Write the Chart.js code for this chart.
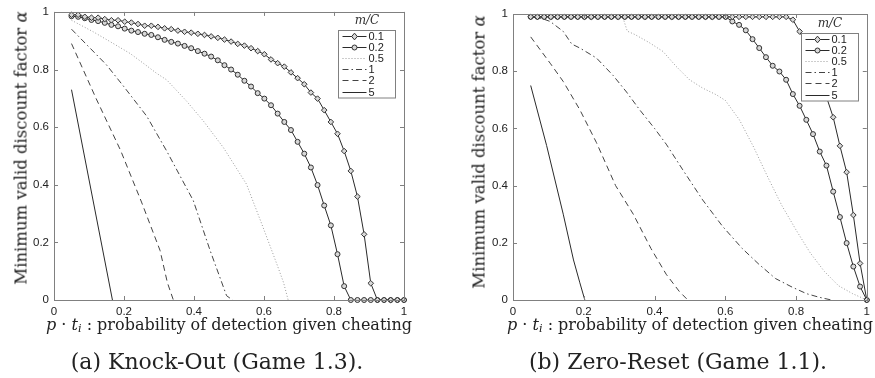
<!DOCTYPE html>
<html>
<head>
<meta charset="utf-8">
<script src="https://cdn.jsdelivr.net/npm/chart.js@4.4.0/dist/chart.umd.min.js"></script>
<style>
	body { margin: 0; background: #fff; width: 875px; height: 378px; position: relative; overflow: hidden; font-family: "DejaVu Serif", serif; color: #222; }
	.panel { position: absolute; top: 0; width: 440px; height: 320px; }
	.xtitle, .caption, .ytitle { position: absolute; white-space: nowrap; transform: translate(-50%, -50%); }
	.xtitle { font-size: 16px; top: 325px; }
	.caption { font-size: 22px; top: 361px; }
	.ytitle { font-size: 16.5px; transform: translate(-50%, -50%) rotate(-90deg); }
	sub { font-size: 70%; vertical-align: -0.25em; }
</style>
</head>
<body>
<div class="panel" style="left:0px"><canvas id="knockOutChart" width="440" height="320"></canvas></div>
<div class="panel" style="left:435px"><canvas id="zeroResetChart" width="440" height="320"></canvas></div>

<div class="ytitle" style="left:21px; top:148px">Minimum valid discount factor <i>α</i></div>
<div class="xtitle" style="left:229px"><i>p</i> · <i>t<sub>i</sub></i> : probability of detection given cheating</div>
<div class="caption" style="left:217px">(a) Knock-Out (Game 1.3).</div>

<div class="ytitle" style="left:479px; top:152px">Minimum valid discount factor <i>α</i></div>
<div class="xtitle" style="left:690px"><i>p</i> · <i>t<sub>i</sub></i> : probability of detection given cheating</div>
<div class="caption" style="left:678px">(b) Zero-Reset (Game 1.1).</div>

<script>
// axis ticks and legend names
const axisTicks = [0, 0.2, 0.4, 0.6, 0.8, 1];
const ratioLabels = ["0.1", "0.2", "0.5", "1", "2", "5"];

// detection probabilities where the marked curves are sampled
const pGrid = [0.05, 0.069, 0.088, 0.107, 0.126, 0.145, 0.164, 0.183, 0.202, 0.221,
	0.24, 0.259, 0.278, 0.297, 0.316, 0.335, 0.354, 0.373, 0.392, 0.411,
	0.43, 0.449, 0.468, 0.487, 0.506, 0.525, 0.544, 0.563, 0.582, 0.601,
	0.62, 0.639, 0.658, 0.677, 0.696, 0.715, 0.734, 0.753, 0.772, 0.791,
	0.81, 0.829, 0.848, 0.867, 0.886, 0.905, 0.924, 0.943, 0.962, 0.981, 1.0];

// (a) Knock-Out
const koAlpha01 = [0.99, 0.99, 0.983, 0.98, 0.98, 0.975, 0.971, 0.971, 0.966, 0.963,
	0.958, 0.952, 0.952, 0.948, 0.943, 0.94, 0.935, 0.931, 0.928, 0.924,
	0.92, 0.915, 0.91, 0.904, 0.897, 0.889, 0.883, 0.874, 0.864, 0.853,
	0.835, 0.822, 0.81, 0.79, 0.77, 0.749, 0.72, 0.699, 0.659, 0.618,
	0.577, 0.517, 0.448, 0.359, 0.228, 0.058, 0, 0, 0, 0, 0];
const koAlpha02 = [0.985, 0.983, 0.978, 0.972, 0.968, 0.962, 0.955, 0.95, 0.942, 0.935,
	0.93, 0.924, 0.92, 0.912, 0.903, 0.896, 0.89, 0.882, 0.874, 0.864,
	0.855, 0.845, 0.832, 0.815, 0.8, 0.782, 0.761, 0.741, 0.718, 0.699,
	0.676, 0.647, 0.618, 0.59, 0.549, 0.508, 0.46, 0.399, 0.328, 0.259,
	0.159, 0.048, 0, 0, 0, 0, 0, 0, 0, 0, 0];
const koP05 = [0.05, 0.112, 0.16, 0.217, 0.255, 0.293, 0.322, 0.379, 0.427, 0.484, 0.55, 0.598, 0.636, 0.656, 0.669];
const koAlpha05 = [0.971, 0.931, 0.897, 0.856, 0.822, 0.787, 0.764, 0.69, 0.621, 0.529, 0.402, 0.25, 0.127, 0.06, 0];
const koP1 = [0.05, 0.15, 0.2, 0.265, 0.322, 0.398, 0.446, 0.493, 0.51];
const koAlpha1 = [0.94, 0.816, 0.74, 0.638, 0.517, 0.345, 0.172, 0.015, 0];
const koP2 = [0.05, 0.12, 0.19, 0.25, 0.303, 0.324, 0.341];
const koAlpha2 = [0.89, 0.7, 0.52, 0.34, 0.172, 0.06, 0];
const koP5 = [0.05, 0.167];
const koAlpha5 = [0.73, 0];

// (b) Zero-Reset
const zrAlpha01 = [0.99, 0.99, 0.99, 0.99, 0.99, 0.99, 0.99, 0.99, 0.99, 0.99,
	0.99, 0.99, 0.99, 0.99, 0.99, 0.99, 0.99, 0.99, 0.99, 0.99,
	0.99, 0.99, 0.99, 0.99, 0.99, 0.99, 0.99, 0.99, 0.99, 0.99,
	0.99, 0.99, 0.99, 0.99, 0.99, 0.99, 0.99, 0.99, 0.99, 0.98,
	0.939, 0.89, 0.84, 0.78, 0.71, 0.639, 0.539, 0.447, 0.297, 0.128, 0];
const zrAlpha02 = [0.99, 0.99, 0.99, 0.99, 0.99, 0.99, 0.99, 0.99, 0.99, 0.99,
	0.99, 0.99, 0.99, 0.99, 0.99, 0.99, 0.99, 0.99, 0.99, 0.99,
	0.99, 0.99, 0.99, 0.99, 0.99, 0.99, 0.99, 0.99, 0.99, 0.99,
	0.974, 0.962, 0.943, 0.912, 0.881, 0.849, 0.819, 0.799, 0.77, 0.72,
	0.679, 0.63, 0.58, 0.519, 0.47, 0.379, 0.29, 0.199, 0.117, 0.047, 0];
const zrP05 = [0.05, 0.31, 0.323, 0.345, 0.385, 0.424, 0.461, 0.499, 0.536, 0.574, 0.6, 0.64, 0.68, 0.72, 0.76, 0.8, 0.84, 0.88, 0.92, 0.96, 1.0];
const zrAlpha05 = [0.99, 0.99, 0.94, 0.928, 0.9, 0.869, 0.817, 0.77, 0.741, 0.718, 0.698, 0.63, 0.535, 0.43, 0.33, 0.245, 0.165, 0.1, 0.05, 0.022, 0];
const zrP1 = [0.05, 0.08, 0.105, 0.142, 0.166, 0.189, 0.236, 0.283, 0.321, 0.358, 0.4, 0.433, 0.48, 0.536, 0.592, 0.648, 0.695, 0.742, 0.789, 0.83, 0.864, 0.9];
const zrAlpha1 = [0.99, 0.985, 0.974, 0.939, 0.895, 0.881, 0.846, 0.785, 0.727, 0.665, 0.6, 0.545, 0.455, 0.35, 0.258, 0.18, 0.125, 0.075, 0.045, 0.022, 0.01, 0];
const zrP2 = [0.05, 0.105, 0.142, 0.189, 0.236, 0.29, 0.34, 0.39, 0.433, 0.47, 0.494];
const zrAlpha2 = [0.92, 0.828, 0.764, 0.665, 0.55, 0.4, 0.3, 0.18, 0.09, 0.03, 0];
const zrP5 = [0.05, 0.095, 0.142, 0.171, 0.189, 0.203];
const zrAlpha5 = [0.75, 0.54, 0.3, 0.14, 0.06, 0];

// line style for each m/C curve, same order as ratioLabels
const curveStyles = [
	{ color: "#2a2a2a", dash: [], marker: "rectRot", radius: 2.8 },
	{ color: "#2a2a2a", dash: [], marker: "circle", radius: 2.5 },
	{ color: "#9a9a9a", dash: [1, 2], marker: false, radius: 0 },
	{ color: "#444", dash: [6, 3, 1.5, 3], marker: false, radius: 0 },
	{ color: "#444", dash: [6, 4], marker: false, radius: 0 },
	{ color: "#2a2a2a", dash: [], marker: false, radius: 0 },
];

function toPoints(xs, ys) {
	return xs.map((x, i) => ({ x: x, y: ys[i] }));
}

function buildDatasets(curves) {
	return curves.map((pts, i) => {
		const st = curveStyles[i];
		return {
			label: ratioLabels[i],
			data: pts,
			borderColor: st.color,
			borderWidth: 1,
			borderDash: st.dash,
			pointStyle: st.marker || "circle",
			pointRadius: st.radius,
			pointBorderColor: "#333",
			pointBackgroundColor: "#d8d8d8",
			pointBorderWidth: 1,
			tension: 0,
			clip: false,
		};
	});
}

function drawMarker(ctx, style, x, y, r) {
	ctx.beginPath();
	if (style === "rectRot") {
		ctx.moveTo(x, y - r * 1.2);
		ctx.lineTo(x + r, y);
		ctx.lineTo(x, y + r * 1.2);
		ctx.lineTo(x - r, y);
		ctx.closePath();
	} else {
		ctx.arc(x, y, r, 0, Math.PI * 2);
	}
	ctx.fill();
	ctx.stroke();
}

// box around the plot with inward ticks on all four sides
const frameBox = {
	id: "frameBox",
	afterDatasetsDraw(chart) {
		const ctx = chart.ctx, a = chart.chartArea;
		const xs = chart.scales.x, ys = chart.scales.y;
		ctx.save();
		ctx.strokeStyle = "#808080";
		ctx.lineWidth = 1;
		ctx.setLineDash([]);
		ctx.strokeRect(Math.round(a.left) + 0.5, Math.round(a.top) + 0.5, Math.round(a.right - a.left), Math.round(a.bottom - a.top));
		ctx.beginPath();
		axisTicks.forEach((t) => {
			const px = Math.round(xs.getPixelForValue(t)) + 0.5;
			const py = Math.round(ys.getPixelForValue(t)) + 0.5;
			ctx.moveTo(px, a.bottom); ctx.lineTo(px, a.bottom - 4);
			ctx.moveTo(px, a.top); ctx.lineTo(px, a.top + 4);
			ctx.moveTo(a.left, py); ctx.lineTo(a.left + 4, py);
			ctx.moveTo(a.right, py); ctx.lineTo(a.right - 4, py);
		});
		ctx.stroke();
		ctx.restore();
	},
};

// MATLAB-like legend box in the upper right corner, titled m/C
const ratioLegend = {
	id: "ratioLegend",
	afterDraw(chart) {
		const ctx = chart.ctx, a = chart.chartArea;
		const w = 57, h = 67.5, rowH = 11.2;
		const x0 = Math.round(a.right - 9 - w) + 0.5, y0 = Math.round(a.top + 18.5) + 0.5;
		ctx.save();
		ctx.fillStyle = "#fff";
		ctx.fillRect(x0, y0, w, h);
		ctx.strokeStyle = "#808080";
		ctx.lineWidth = 1;
		ctx.strokeRect(x0, y0, w, h);

		ctx.fillStyle = "#333";
		ctx.textAlign = "center";
		ctx.textBaseline = "middle";
		ctx.font = "italic 12px 'DejaVu Serif'";
		ctx.fillText("m/C", x0 + w / 2, y0 - 10);

		ctx.textAlign = "left";
		ctx.font = "11px 'Liberation Sans'";
		chart.data.datasets.forEach((ds, i) => {
			const y = Math.round(y0 + 5 + rowH * i) + 0.5;
			ctx.strokeStyle = ds.borderColor;
			ctx.setLineDash(ds.borderDash);
			ctx.beginPath();
			ctx.moveTo(x0 + 4, y);
			ctx.lineTo(x0 + 28, y);
			ctx.stroke();
			ctx.setLineDash([]);
			if (ds.pointRadius > 0) {
				ctx.fillStyle = ds.pointBackgroundColor;
				ctx.strokeStyle = ds.pointBorderColor;
				drawMarker(ctx, ds.pointStyle, x0 + 16, y, ds.pointRadius);
			}
			ctx.fillStyle = "#222";
			ctx.fillText(ds.label, x0 + 30, y);
		});
		ctx.restore();
	},
};

// MATLAB prints 0 and 1 without decimals
function tickText(v) {
	return String(Math.round(v * 10) / 10);
}

function makeChart(canvasId, curves, leftWidth, pad) {
	new Chart(canvasId, {
		type: "line",
		data: { datasets: buildDatasets(curves) },
		options: {
			responsive: false,
			animation: false,
			devicePixelRatio: 1,
			layout: { padding: pad },
			plugins: { legend: { display: false }, tooltip: { enabled: false } },
			scales: {
				x: {
					type: "linear",
					min: 0,
					max: 1,
					afterFit: (s) => { s.height = 20; },
					afterBuildTicks: (s) => { s.ticks = axisTicks.map((v) => ({ value: v })); },
					grid: { display: false, drawTicks: false },
					border: { display: false },
					ticks: { padding: 5, color: "#222", font: { family: "Liberation Sans", size: 11.5 }, maxRotation: 0, callback: tickText },
				},
				y: {
					type: "linear",
					min: 0,
					max: 1,
					afterFit: (s) => { s.width = leftWidth; },
					afterBuildTicks: (s) => { s.ticks = axisTicks.map((v) => ({ value: v })); },
					grid: { display: false, drawTicks: false },
					border: { display: false },
					ticks: { padding: 5, color: "#222", font: { family: "Liberation Sans", size: 11.5 }, callback: tickText },
				},
			},
		},
		plugins: [frameBox, ratioLegend],
	});
}

makeChart("knockOutChart", [
	toPoints(pGrid, koAlpha01),
	toPoints(pGrid, koAlpha02),
	toPoints(koP05, koAlpha05),
	toPoints(koP1, koAlpha1),
	toPoints(koP2, koAlpha2),
	toPoints(koP5, koAlpha5),
], 54, { top: 10, right: 36, bottom: 0, left: 0 });

makeChart("zeroResetChart", [
	toPoints(pGrid, zrAlpha01),
	toPoints(pGrid, zrAlpha02),
	toPoints(zrP05, zrAlpha05),
	toPoints(zrP1, zrAlpha1),
	toPoints(zrP2, zrAlpha2),
	toPoints(zrP5, zrAlpha5),
], 78, { top: 14, right: 7, bottom: 0, left: 0 });
</script>
</body>
</html>
